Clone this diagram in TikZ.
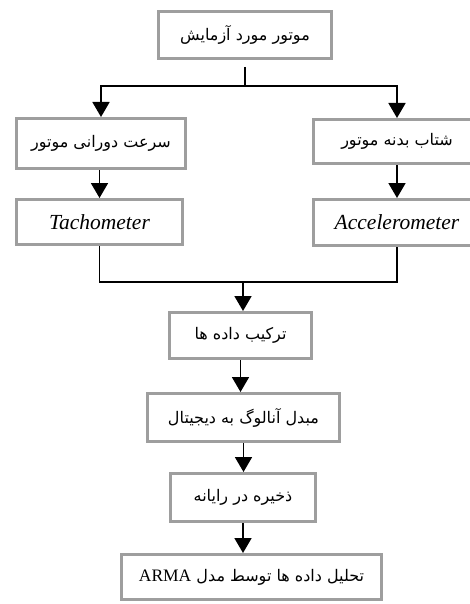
\documentclass[tikz,border=0pt]{standalone}
\usepackage{fontspec}
\setmainfont{Liberation Serif}
\newfontfamily\farsi[Script=Arabic]{DejaVu Sans}
\TeXXeTstate=1
\usetikzlibrary{arrows.meta}

\begin{document}
\begin{tikzpicture}[x=1pt, y=-1pt,
    blk/.style={draw=black!38, line width=3pt, fill=white, inner sep=0pt,
      font=\farsi\fontsize{16}{18}\selectfont},
    lat/.style={font=\itshape\fontsize{21.5}{24}\selectfont},
    ln/.style={line width=1.8pt},
    arr/.style={ln, -{Triangle[width=17pt,length=15pt]}}]
  \useasboundingbox (0,0) rectangle (470,604);
  \clip (0,0) rectangle (470,604);
  \node [blk, minimum width=173pt, minimum height=47pt] (motor) at (245,35)
    {\beginR موتور مورد آزمایش\endR};
  \node [blk, minimum width=169pt, minimum height=50pt] (speed) at (101,143.5)
    {\beginR سرعت دورانی موتور\endR};
  \node [blk, minimum width=167pt, minimum height=44pt] (accel) at (397,141.5)
    {\beginR شتاب بدنه موتور\endR};
  \node [blk, lat, minimum width=166pt, minimum height=45pt] (tach) at (99.5,222)
    {Tachometer};
  \node [blk, lat, minimum width=167pt, minimum height=46pt] (accm) at (397,222.5)
    {Accelerometer};
  \node [blk, minimum width=142pt, minimum height=46pt] (tarkib) at (240.5,335.5)
    {\beginR ترکیب داده ها\endR};
  \node [blk, minimum width=192pt, minimum height=48pt] (mobadel) at (243.5,417.5)
    {\beginR مبدل آنالوگ به دیجیتال\endR};
  \node [blk, minimum width=145pt, minimum height=48pt] (zakhire) at (243,497.5)
    {\beginR ذخیره در رایانه\endR};
  \node [blk, minimum width=260pt, minimum height=45pt] (tahlil) at (251.5,577)
    {\beginR تحلیل داده ها توسط مدل \beginL{\rmfamily\fontsize{17.5}{19}\selectfont ARMA}\endL\endR};

  \coordinate (split) at (245,86);
  \coordinate (join) at (243,282);
  \draw [ln, shorten <=7pt] (motor.south) -- (split);
  \draw [arr] (split) -| (speed.north);
  \draw [arr] (split) -| (accel.north);
  \draw [arr] (speed.south -| tach.north) -- (tach.north);
  \draw [arr] (accel.south) -- (accm.north);
  \draw [ln] (tach.south) |- (join) -| (accm.south);
  \draw [arr] (join) -- (join |- tarkib.north);
  \foreach \a/\b in {tarkib/mobadel, mobadel/zakhire, zakhire/tahlil}
    \draw [arr] (\a.south) -- (\a.south |- \b.north);
\end{tikzpicture}
\end{document}
